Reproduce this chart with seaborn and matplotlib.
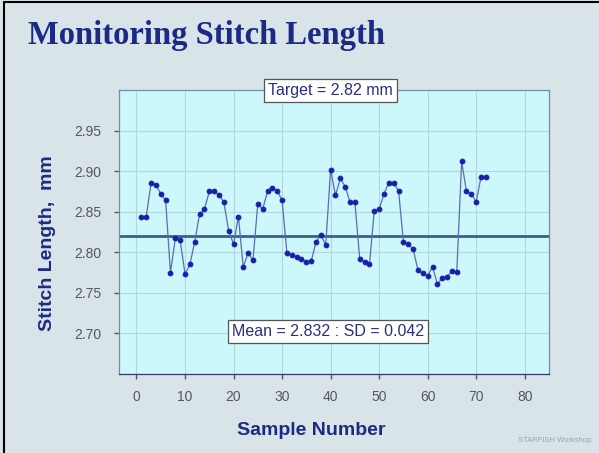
import matplotlib
matplotlib.use("Agg")
import matplotlib.pyplot as plt
import seaborn as sns
import pandas as pd
from matplotlib.lines import Line2D

# Stitch length measured on consecutive samples (mm)
sample_number = list(range(1, 73))
stitch_length = [
    2.843, 2.844, 2.885, 2.883, 2.872, 2.864, 2.775, 2.817, 2.815, 2.773,
    2.785, 2.813, 2.847, 2.853, 2.875, 2.875, 2.871, 2.862, 2.826, 2.810,
    2.844, 2.782, 2.799, 2.790, 2.860, 2.853, 2.875, 2.879, 2.876, 2.864,
    2.799, 2.797, 2.794, 2.792, 2.788, 2.789, 2.813, 2.821, 2.809, 2.902,
    2.870, 2.891, 2.881, 2.862, 2.862, 2.792, 2.788, 2.785, 2.851, 2.853,
    2.872, 2.886, 2.885, 2.876, 2.813, 2.810, 2.804, 2.778, 2.774, 2.771,
    2.782, 2.761, 2.768, 2.770, 2.777, 2.776, 2.912, 2.875, 2.872, 2.862,
    2.893, 2.893,
]
target = 2.82
mean_value = 2.832
sd_value = 0.042

x_ticks = [0, 10, 20, 30, 40, 50, 60, 70, 80]
y_ticks = [2.70, 2.75, 2.80, 2.85, 2.90, 2.95]

df = pd.DataFrame({"Sample": sample_number, "Length": stitch_length})

sns.set_theme(style="white")
plt.rcParams["font.family"] = ["Liberation Sans", "DejaVu Sans"]

navy = "#1c2a86"
bg = "#d8e4e8"

fig = plt.figure(figsize=(5.99, 4.53), dpi=100, facecolor=bg)
ax = fig.add_axes([0.1987, 0.1744, 0.7178, 0.6269])
ax.set_facecolor("#ccf7fb")

# grid
for xv in x_ticks:
    ax.axvline(xv, color="#b0d8dc", lw=0.8, zorder=0)
for yv in y_ticks:
    ax.axhline(yv, color="#b0d8dc", lw=0.8, zorder=0)

# target line
ax.axhline(target, color="#3d5f85", lw=2.0, zorder=2)

sns.lineplot(data=df, x="Sample", y="Length", ax=ax, color="#5a6cb4",
             lw=0.9, marker="o", markersize=3.4, markerfacecolor="#1a1fa8",
             markeredgecolor="#1a1fa8", zorder=3)

ax.set_xlim(-3.6, 85.0)
ax.set_ylim(2.65, 3.0)
ax.set_xticks(x_ticks)
ax.set_yticks(y_ticks)
ax.set_yticklabels([f"{v:.2f}" for v in y_ticks])
ax.tick_params(axis="both", which="both", direction="out", length=3.5,
               width=1.0, color="#555566", labelsize=10, labelcolor="#555566",
               bottom=True, left=True)
ax.tick_params(axis="y", pad=9)
ax.tick_params(axis="x", pad=8)
for s in ax.spines.values():
    s.set_color("#6f8fa8")
    s.set_linewidth(0.9)
ax.spines["bottom"].set_color("#333a66")

ax.set_xlabel("Sample Number", fontsize=14, fontweight="bold", color=navy)
ax.set_ylabel("Stitch Length,  mm", fontsize=14, fontweight="bold",
              color=navy)
ax.xaxis.set_label_coords(0.447, -0.168)
ax.yaxis.set_label_coords(-0.147, 0.461)

ax.text(0.491, 1.0, "Target = 2.82 mm", transform=ax.transAxes,
        ha="center", va="center", fontsize=11.5, color="#2a2f7a",
        bbox=dict(boxstyle="square,pad=0.25", facecolor="white",
                  edgecolor="#555555", linewidth=0.9), zorder=5)
ax.text(0.487, 0.148, f"Mean = {mean_value:.3f} : SD = {sd_value:.3f}",
        transform=ax.transAxes, ha="center", va="center", fontsize=11.5,
        color="#2a2f7a", bbox=dict(boxstyle="square,pad=0.25",
                                    facecolor="white", edgecolor="#555555",
                                    linewidth=0.9), zorder=5)

fig.text(0.047, 0.922, "Monitoring Stitch Length",
         family=["Liberation Serif", "DejaVu Serif"], fontweight="bold",
         fontsize=23.5, color=navy, ha="left", va="center")

fig.text(0.988, 0.028, "STARFISH Workshop", fontsize=5.5, color="#9aa6b0",
         ha="right", va="center")

# frame lines along the top and left of the slide
fig.add_artist(Line2D([0.006, 0.006], [0.0, 0.995], color="black", lw=1.5,
                      transform=fig.transFigure))
fig.add_artist(Line2D([0.006, 1.0], [0.995, 0.995], color="black", lw=1.5,
                      transform=fig.transFigure))

fig.savefig("out.png", dpi=100, facecolor=bg)
